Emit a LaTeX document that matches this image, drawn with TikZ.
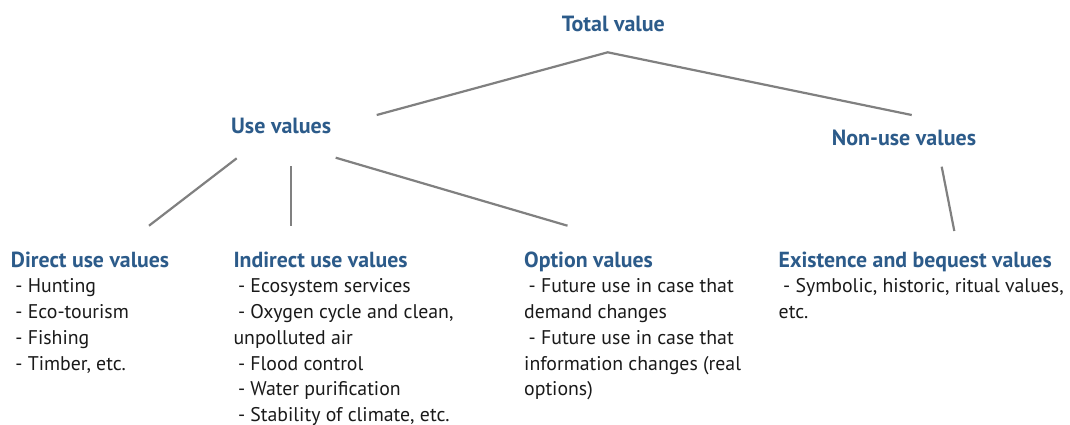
\documentclass[tikz,border=0pt]{standalone}
\usepackage{fontspec}
\setmainfont{PT Sans}
\definecolor{headblue}{RGB}{44,91,138}
\definecolor{bodytext}{RGB}{26,26,26}
\definecolor{linkgray}{RGB}{128,128,128}
% one indented list entry inside a value block
\newcommand{\valitem}[1]{\hspace*{4.5pt}- #1}
% a value block: blue bold heading followed by its entries
\newcommand{\valblock}[2]{\parbox[t]{320pt}{\raggedright\fontsize{19.8}{25.75}\selectfont
  \leavevmode{\color{headblue}\bfseries\fontsize{21.8}{25.75}\selectfont #1}\\ #2}}
\tikzset{
  head/.style={inner sep=0pt, anchor=base west, text=headblue,
    font=\bfseries\fontsize{22}{26}\selectfont},
  block/.style={inner sep=0pt, anchor=base west, text=bodytext},
  link/.style={draw=linkgray, line width=2.2pt},
}
\begin{document}
\begin{tikzpicture}[x=1pt, y=-1pt]
  \fill[white] (0,0) rectangle (1070,424);
  \useasboundingbox (0,0) rectangle (1070,424);

  % headings of the hierarchy
  \node[head] (total) at (561.7,31.7) {Total value};
  \node[head] (use) at (231,133.3) {Use values};
  \node[head] (nonuse) at (831.7,145.7) {Non-use values};

  % leaf blocks
  \node[block] (direct) at (10.7,267) {\valblock{Direct use values}{%
    \valitem{Hunting}\\ \valitem{Eco-tourism}\\ \valitem{Fishing}\\ \valitem{Timber, etc.}}};
  \node[block] (indirect) at (233.3,267) {\valblock{Indirect use values}{%
    \valitem{Ecosystem services}\\ \valitem{Oxygen cycle and clean,}\\ unpolluted air\\
    \valitem{Flood control}\\ \valitem{Water purification}\\ \valitem{Stability of climate, etc.}}};
  \node[block] (option) at (524,267) {\valblock{Option values}{%
    \valitem{Future use in case that}\\ demand changes\\
    \valitem{Future use in case that}\\ information changes (real\\ options)}};
  \node[block] (exist) at (778.5,267) {\valblock{Existence and bequest values}{%
    \valitem{Symbolic, historic, ritual values,}\\ etc.}};

  % connector end points
  \coordinate (total-l) at (376.7,115);
  \coordinate (total-apex) at (607.7,52.3);
  \coordinate (total-r) at (911.7,115);
  \coordinate (use-a) at (236.7,158.3);
  \coordinate (direct-t) at (149,225.7);
  \coordinate (use-b) at (290.7,166);
  \coordinate (indirect-t) at (290.7,225.7);
  \coordinate (use-c) at (335.7,157.7);
  \coordinate (option-t) at (567.5,225.7);
  \coordinate (nonuse-a) at (941.7,166.7);
  \coordinate (exist-t) at (954.3,231);

  % connectors
  \draw[link] (total-l) -- (total-apex) -- (total-r);
  \draw[link] (use-a) -- (direct-t);
  \draw[link] (use-b) -- (indirect-t);
  \draw[link] (use-c) -- (option-t);
  \draw[link] (nonuse-a) -- (exist-t);
\end{tikzpicture}
\end{document}
